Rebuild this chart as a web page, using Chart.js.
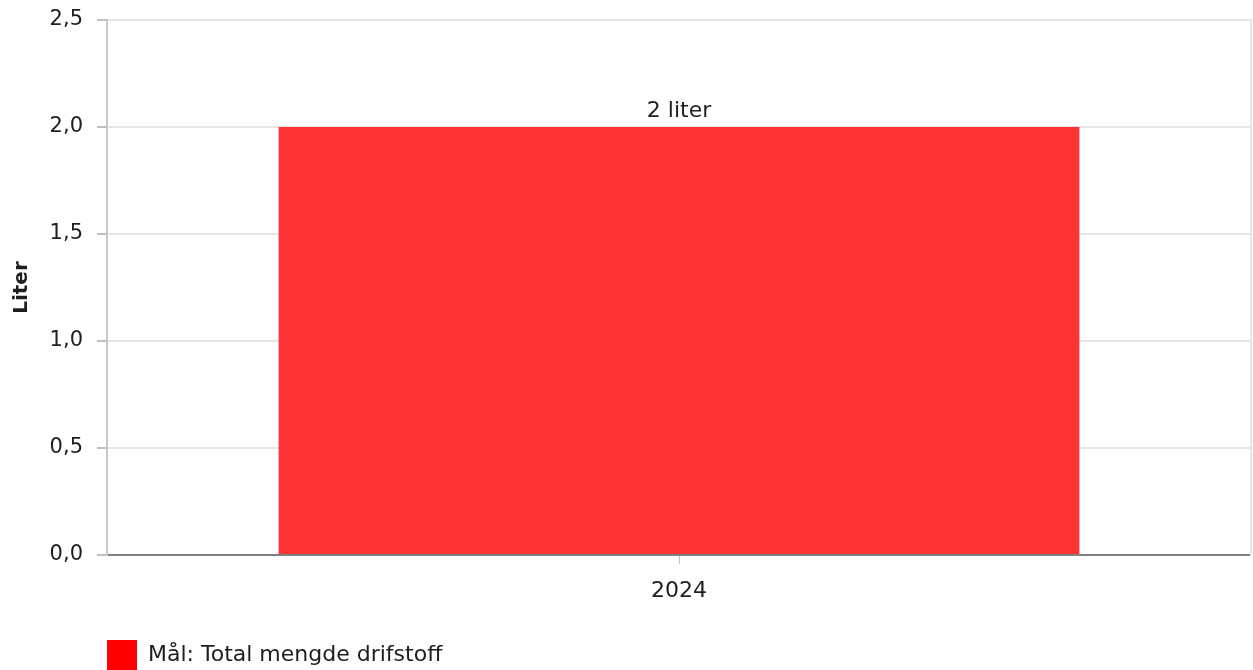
<!DOCTYPE html>
<html>
<head>
<meta charset="utf-8">
<script src="https://cdn.jsdelivr.net/npm/chart.js@4/dist/chart.umd.min.js"></script>
<style>
  html, body { margin: 0; padding: 0; background: #fff; }
  #wrap { width: 1253px; height: 670px; position: relative; }
</style>
</head>
<body>
<div id="wrap"><canvas id="chart"></canvas></div>
<script>
const categories = ['2024'];
const seriesName = 'Mål: Total mengde drifstoff';
const seriesValues = [2];
const valueLabels = ['2 liter'];
const yTicks = [0, 0.5, 1, 1.5, 2, 2.5];

const FONT = 'DejaVu Sans, Verdana, sans-serif';
const TEXT = '#1e1e1e';

// writes the value label above each bar
const barLabels = {
  id: 'barLabels',
  afterDatasetsDraw(chart) {
    const ctx = chart.ctx;
    const meta = chart.getDatasetMeta(0);
    ctx.save();
    ctx.font = '22px ' + FONT;
    ctx.fillStyle = TEXT;
    ctx.textAlign = 'center';
    ctx.textBaseline = 'bottom';
    meta.data.forEach((bar, i) => {
      ctx.fillText(valueLabels[i], bar.x, bar.y - 5);
    });
    ctx.restore();
  }
};

// legend sits under the plot, lined up with its left edge
const legendShift = {
  id: 'legendShift',
  afterLayout(chart) {
    const pad = chart.options.plugins.legend.labels.padding;
    chart.legend.left = chart.scales.x.left - pad;
    chart.legend.top += 10;
  }
};

new Chart(document.getElementById('chart'), {
  type: 'bar',
  data: {
    labels: categories,
    datasets: [{
      label: seriesName,
      data: seriesValues,
      backgroundColor: '#ff3333',
      borderWidth: 0,
      barPercentage: 0.7,
      categoryPercentage: 1
    }]
  },
  options: {
    responsive: true,
    maintainAspectRatio: false,
    animation: false,
    layout: { padding: { top: 20, left: 0, right: 0, bottom: 0 } },
    plugins: {
      tooltip: { enabled: false },
      legend: {
        position: 'bottom',
        align: 'start',
        labels: {
          boxWidth: 30,
          boxHeight: 30,
          padding: 10,
          color: TEXT,
          font: { family: FONT, size: 22 },
          generateLabels(chart) {
            return chart.data.datasets.map((ds, i) => ({
              text: ds.label,
              fillStyle: '#ff0000',
              strokeStyle: '#ff0000',
              lineWidth: 0,
              fontColor: TEXT,
              datasetIndex: i
            }));
          }
        }
      }
    },
    scales: {
      x: {
        grid: {
          drawOnChartArea: false,
          offset: false,
          color: '#c0c0c0',
          tickLength: 9
        },
        border: { color: '#808080', width: 2 },
        ticks: {
          color: TEXT,
          font: { family: FONT, size: 22 },
          padding: 14
        },
        afterFit(scale) {
          scale.height = 65;
          scale.paddingLeft = 0;
          scale.paddingRight = 0;
        }
      },
      y: {
        min: 0,
        max: 2.5,
        afterBuildTicks(scale) { scale.ticks = yTicks.map(v => ({ value: v })); },
        grid: { color: '#e6e6e6', lineWidth: 2, tickLength: 10, tickColor: '#c0c0c0' },
        border: { color: '#c8c8c8', width: 2 },
        ticks: {
          color: TEXT,
          font: { family: FONT, size: 21 },
          padding: 14,
          callback: v => v.toFixed(1).replace('.', ',')
        },
        title: {
          display: true,
          text: 'Liter',
          color: TEXT,
          font: { family: FONT, size: 20, weight: 'bold' },
          padding: { top: 10, bottom: 0 }
        },
        afterFit(scale) {
          scale.width = 107;
          scale.paddingTop = 0;
          scale.paddingBottom = 0;
        }
      },
      y2: {
        position: 'right',
        min: 0,
        max: 2.5,
        grid: { drawOnChartArea: false, drawTicks: false },
        border: { color: '#e6e6e6', width: 2 },
        ticks: { display: false },
        afterFit(scale) {
          scale.width = 2;
          scale.paddingTop = 0;
          scale.paddingBottom = 0;
        }
      }
    }
  },
  plugins: [barLabels, legendShift]
});
</script>
</body>
</html>
